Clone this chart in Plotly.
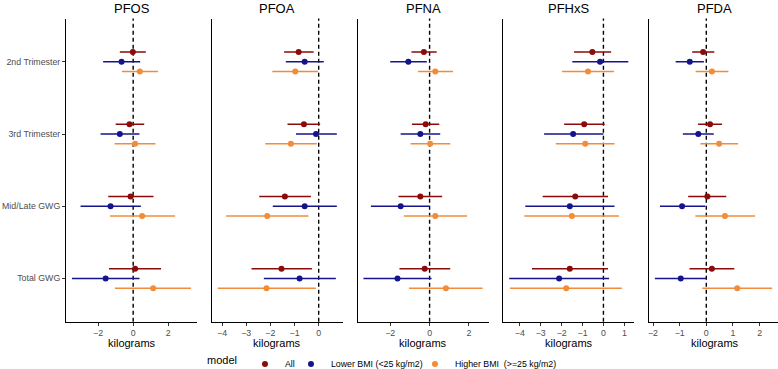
import plotly.graph_objects as go

pollutants = ["PFOS", "PFOA", "PFNA", "PFHxS", "PFDA"]
periods = ["2nd Trimester", "3rd Trimester", "Mid/Late GWG", "Total GWG"]
models = ["All", "Lower BMI (<25 kg/m2)", "Higher BMI  (>=25 kg/m2)"]
colors = ["#8B0A0A", "#14148C", "#F28C38"]

# rows: pollutant; columns: period (same order as `periods`)
est_all = [[-0.02, -0.21, -0.15, 0.11], [-0.83, -0.61, -1.40, -1.54], [-0.29, -0.20, -0.47, -0.25],
           [-0.53, -0.92, -1.35, -1.61], [-0.12, 0.14, 0.04, 0.21]]
lo_all = [[-0.76, -1.00, -1.42, -1.38], [-1.43, -1.29, -2.46, -2.78], [-0.92, -0.90, -1.58, -1.53],
          [-1.41, -1.88, -2.91, -3.42], [-0.53, -0.31, -0.68, -0.63]]
hi_all = [[0.72, 0.63, 1.16, 1.59], [-0.21, 0.06, -0.32, -0.28], [0.36, 0.49, 0.64, 1.05],
          [0.37, 0.06, 0.22, 0.22], [0.30, 0.59, 0.75, 1.05]]

est_lower = [[-0.66, -0.76, -1.29, -1.57], [-0.58, -0.11, -0.58, -0.79], [-1.08, -0.47, -1.47, -1.63],
             [-0.16, -1.45, -1.61, -2.12], [-0.62, -0.30, -0.91, -0.96]]
lo_lower = [[-1.71, -1.86, -3.00, -3.49], [-1.36, -0.94, -1.90, -2.27], [-2.00, -1.47, -2.98, -3.36],
            [-1.49, -2.84, -3.74, -4.51], [-1.15, -0.88, -1.74, -1.93]]
hi_lower = [[0.40, 0.36, 0.44, 0.36], [0.21, 0.75, 0.75, 0.71], [-0.14, 0.54, 0.00, 0.10],
            [1.19, 0.00, 0.53, 0.27], [-0.09, 0.28, -0.04, 0.00]]

est_higher = [[0.38, 0.11, 0.51, 1.14], [-0.97, -1.15, -2.13, -2.16], [0.29, 0.03, 0.29, 0.83],
              [-0.74, -0.87, -1.51, -1.78], [0.21, 0.48, 0.70, 1.16]]
lo_higher = [[-0.64, -1.06, -1.33, -1.04], [-1.92, -2.21, -3.83, -4.18], [-0.59, -0.97, -1.31, -1.05],
             [-1.98, -2.28, -3.79, -4.47], [-0.40, -0.22, -0.41, -0.15]]
hi_higher = [[1.42, 1.27, 2.39, 3.30], [-0.03, -0.08, -0.42, -0.12], [1.19, 1.05, 1.90, 2.69],
             [0.51, 0.53, 0.74, 0.88], [0.83, 1.19, 1.83, 2.47]]

x_dticks = [2, 1, 2, 1, 1]

est = [est_all, est_lower, est_higher]
lo = [lo_all, lo_lower, lo_higher]
hi = [hi_all, hi_lower, hi_higher]
dodge = [0.135, 0.0, -0.135]
legend_widths = [1, 79, None]

W, H = 778, 369
panel_left = 66
panel_w = 131
panel_gap = 14.75
top_px, bottom_px = 18.5, 321.7
ydom = [1 - bottom_px / H, 1 - top_px / H]
font = "Liberation Sans, Arial, Helvetica, sans-serif"

fig = go.Figure()
ncat = len(periods)
ypos = [ncat - i for i in range(ncat)]

for p, name in enumerate(pollutants):
    ax = "" if p == 0 else str(p + 1)
    for m in range(len(models)):
        e = est[m][p]
        fig.add_trace(go.Scatter(
            x=e, y=[y + dodge[m] for y in ypos],
            mode="markers",
            marker=dict(color=colors[m], size=6),
            error_x=dict(type="data", symmetric=False,
                         array=[h - v for h, v in zip(hi[m][p], e)],
                         arrayminus=[v - l for l, v in zip(lo[m][p], e)],
                         color=colors[m], thickness=1.5, width=0),
            name=models[m], legendgroup=models[m], showlegend=(p == 0),
            legendwidth=legend_widths[m],
            xaxis="x" + ax, yaxis="y" + ax,
            hovertemplate=name + " %{y}<br>%{x}<extra>" + models[m] + "</extra>",
        ))
    allv = [v for m in range(3) for v in lo[m][p] + hi[m][p]]
    vmin, vmax = min(allv), max(allv)
    pad = 0.05 * (vmax - vmin)
    x0 = panel_left + p * (panel_w + panel_gap)
    xdom = [x0 / W, min(1.0, (x0 + panel_w) / W)]
    fig.update_layout(**{
        "xaxis" + ax: dict(domain=xdom, range=[vmin - pad, vmax + pad], anchor="y" + ax,
                           showline=True, linecolor="black", linewidth=1, showgrid=False,
                           zeroline=False, ticks="outside", ticklen=3, tickcolor="#333333",
                           dtick=x_dticks[p], automargin=False,
                           tickfont=dict(size=8.8, color="#4D4D4D", family=font)),
        "yaxis" + ax: dict(domain=ydom, range=[0.4, ncat + 0.6], anchor="x" + ax,
                           showline=True, linecolor="black", linewidth=1, showgrid=False,
                           zeroline=False, tickvals=ypos, ticktext=periods, automargin=False,
                           showticklabels=(p == 0), ticks="outside" if p == 0 else "",
                           ticklen=3, tickcolor="#333333",
                           tickfont=dict(size=8.8, color="#4D4D4D", family=font)),
    })
    fig.add_shape(type="line", xref="x" + ax, yref="y" + ax + " domain", x0=0, x1=0, y0=0, y1=1,
                  line=dict(color="black", width=1.4, dash="4px,3px"), layer="below")
    cx = (x0 + panel_w / 2) / W
    fig.add_annotation(text=name, x=cx, y=1 - 8 / H, xref="paper", yref="paper",
                       showarrow=False, font=dict(size=13, color="black", family=font),
                       xanchor="center", yanchor="middle")
    fig.add_annotation(text="kilograms", x=cx, y=1 - 343 / H, xref="paper", yref="paper",
                       showarrow=False, font=dict(size=11, color="black", family=font),
                       xanchor="center", yanchor="middle")

fig.update_layout(
    width=W, height=H,
    margin=dict(l=0, r=0, t=0, b=0, pad=0, autoexpand=False),
    paper_bgcolor="white", plot_bgcolor="white",
    font=dict(family=font, color="black"),
    showlegend=True,
    legend=dict(orientation="h", x=205 / W, xanchor="left", y=1 - 364 / H, yanchor="middle",
                title=dict(text="model", side="left", font=dict(size=11, color="black", family=font)),
                font=dict(size=8.8, color="black", family=font),
                itemwidth=30, tracegroupgap=0, bgcolor="rgba(0,0,0,0)"),
)

fig.write_html("out.html", config={"displayModeBar": False},
               post_script="document.body.style.margin='0';document.body.style.overflow='hidden';")
